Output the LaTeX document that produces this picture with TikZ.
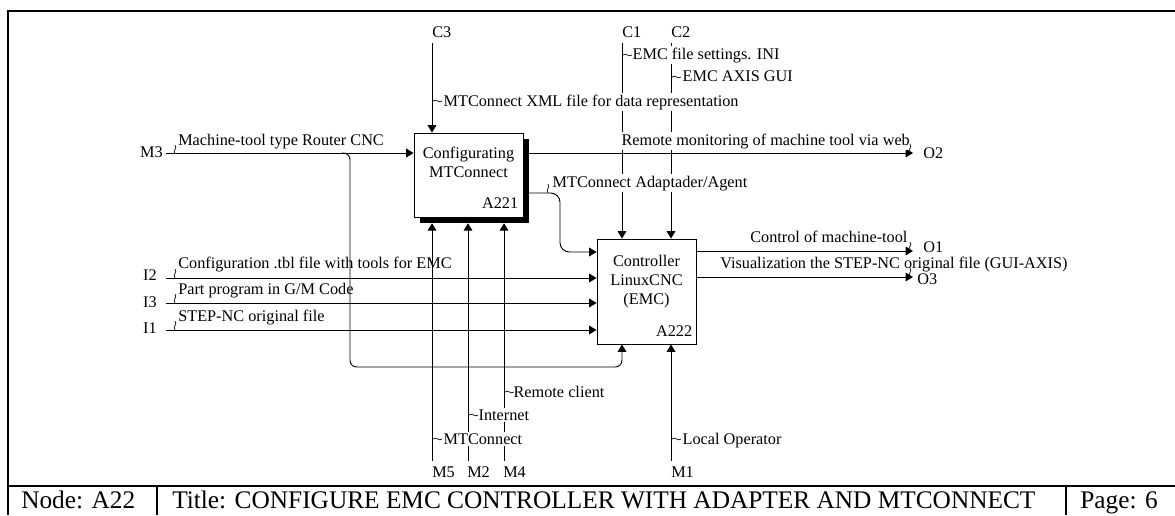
\documentclass[tikz,border=0pt]{standalone}
\usepackage{fontspec}
\setmainfont{Liberation Serif}
\usetikzlibrary{arrows.meta,positioning}

\begin{document}
\begin{tikzpicture}[x=0.75pt, y=-0.75pt,
    lw/.style={line width=0.7pt},
    arr/.style={lw, -{Triangle[length=5.5pt, width=6.5pt]}},
    fbox/.style={draw, lw, fill=white, inner sep=0pt},
    shade/.style={fill=black, inner sep=0pt},
    txt/.style={inner sep=0pt, font=\fontsize{12.2}{14.25}\selectfont},
    tag/.style={txt, anchor=base west},
    gap/.style={tag, fill=white, inner xsep=1pt, inner ysep=1pt},
    frm/.style={line width=2.2pt},
    ttl/.style={inner sep=0pt, anchor=base west, font=\fontsize{19}{22}\selectfont},
    squigh/.pic={\draw[line width=0.5pt] (0,0) .. controls (3,-3) and (6,3) .. (9,0);},
    squigv/.pic={\draw[line width=0.5pt] (0,0) .. controls (-3,-3) and (3,-6) .. (0,-9);}]
    \useasboundingbox (0,0) rectangle (1175,515);

    % activity boxes
    \node[shade, minimum width=81.75pt, minimum height=63pt] (a221sh) at (474.5,181) {};
    \node[fbox, minimum width=81.75pt, minimum height=63pt] (a221) at (468.5,175) {};
    \node[txt, align=center, below=10.5pt of a221.north] (a221t) {Configurating\\MTConnect};
    \node[txt, above left=6.75pt and 3.75pt of a221.south east] (a221n) {A221};
    \node[fbox, minimum width=74.25pt, minimum height=78.75pt] (a222) at (646.5,291.5) {};
    \node[txt, align=center, below=12pt of a222.north] (a222t) {Controller\\LinuxCNC\\(EMC)};
    \node[txt, above left=6pt and 3pt of a222.south east] (a222n) {A222};

    % free ends
    \coordinate (c3s) at (432,43);
    \coordinate (c1s) at (622,43);
    \coordinate (c2s) at (671,43);
    \coordinate (m3s) at (166,153);
    \coordinate (i2s) at (166,278);
    \coordinate (i3s) at (166,303);
    \coordinate (i1s) at (166,330);
    \coordinate (m5s) at (432,461);
    \coordinate (m2s) at (468,461);
    \coordinate (m4s) at (504,461);
    \coordinate (m1s) at (671,461);
    \coordinate (o2e) at (913,153);
    \coordinate (o1e) at (913,251);
    \coordinate (o3e) at (913,277);
    \coordinate (fork) at (342,153);
    \coordinate (bend) at (350,367);
    \coordinate (adp) at (560,193);
    \coordinate (adpin) at (560,252);

    % connectors
    \draw[arr] (c3s) -- (c3s |- a221.north);
    \draw[arr] (c1s) -- (c1s |- a222.north);
    \draw[arr] (c2s) -- (c2s |- a222.north);
    \draw[arr] (m3s) -- (m3s -| a221.west);
    \draw[arr, rounded corners=5pt] (fork) -| (bend) -| (c1s |- a222.south);
    \draw[arr] (i2s) -- (i2s -| a222.west);
    \draw[arr] (i3s) -- (i3s -| a222.west);
    \draw[arr] (i1s) -- (i1s -| a222.west);
    \draw[arr] (m5s) -- (m5s |- a221sh.south);
    \draw[arr] (m2s) -- (m2s |- a221sh.south);
    \draw[arr] (m4s) -- (m4s |- a221sh.south);
    \draw[arr] (m1s) -- (m1s |- a222.south);
    \draw[arr] (a221.east |- o2e) -- (o2e);
    \draw[arr, rounded corners=7pt] (a221.east |- adp) -- (adp) -- (adpin) -- (a222.west |- adpin);
    \draw[arr] (a222.east |- o1e) -- (o1e);
    \draw[arr] (a222.east |- o3e) -- (o3e);

    % boundary tags
    \node[tag] (c3l) at (432,37) {C3};
    \node[tag] (c1l) at (622,37) {C1};
    \node[tag] (c2l) at (671,37) {C2};
    \node[txt, anchor=east] (m3l) at (163,152) {M3};
    \node[txt, anchor=east] (i2l) at (157,275) {I2};
    \node[txt, anchor=east] (i3l) at (157,302) {I3};
    \node[txt, anchor=east] (i1l) at (157,328) {I1};
    \node[tag] (m5l) at (432,477) {M5};
    \node[tag] (m2l) at (467,477) {M2};
    \node[tag] (m4l) at (503,477) {M4};
    \node[tag] (m1l) at (671,477) {M1};
    \node[txt, anchor=west] (o2l) at (923,153) {O2};
    \node[txt, anchor=west] (o1l) at (923,247) {O1};
    \node[txt, anchor=west] (o3l) at (917,279) {O3};

    % arrow labels
    \node[gap] (xml) at (442,106) {MTConnect XML file for data representation};
    \node[gap] (ini) at (631,59) {EMC file settings. INI};
    \node[gap] (gui) at (681,81) {EMC AXIS GUI};
    \node[gap] (web) at (620,145) {Remote monitoring of machine tool via web};
    \node[gap] (agent) at (551,187) {MTConnect Adaptader/Agent};
    \node[tag] (ctrl) at (750,242) {Control of machine-tool};
    \node[tag] (vis) at (720,268) {Visualization the STEP-NC original file (GUI-AXIS)};
    \node[tag] (mtl) at (178,145) {Machine-tool type Router CNC};
    \node[tag] (tbl) at (178,268) {Configuration .tbl file with tools for EMC};
    \node[tag] (gm) at (178,294) {Part program in G/M Code};
    \node[tag] (stp) at (178,321) {STEP-NC original file};
    \node[gap] (rem) at (512,397) {Remote client};
    \node[gap] (net) at (477,420) {Internet};
    \node[gap] (mtc) at (442,444) {MTConnect};
    \node[gap] (loc) at (681,444) {Local Operator};

    % squiggles
    \pic at (433,101) {squigh};
    \pic at (623,55) {squigh};
    \pic at (672,77) {squigh};
    \pic at (505,392) {squigh};
    \pic at (469,415) {squigh};
    \pic at (433,439) {squigh};
    \pic at (672,439) {squigh};
    \pic at (175,154) {squigv};
    \pic at (175,278) {squigv};
    \pic at (175,303) {squigv};
    \pic at (175,330) {squigv};
    \pic at (548,193) {squigv};
    \pic at (910,153) {squigv};
    \pic at (910,251) {squigv};
    \pic at (910,277) {squigv};

    % frame and title block
    \draw[frm] (8,515) -- (8,11) -- (1175,11);
    \draw[frm] (8,486) -- (1175,486);
    \draw[line width=1.5pt] (157,486) -- (157,515) (1066,486) -- (1066,515);
    \node[ttl] (nodet) at (21,508) {Node: A22};
    \node[ttl] (titlet) at (172,508) {Title: CONFIGURE EMC CONTROLLER WITH ADAPTER AND MTCONNECT};
    \node[ttl] (paget) at (1080,508) {Page: 6};
\end{tikzpicture}
\end{document}
